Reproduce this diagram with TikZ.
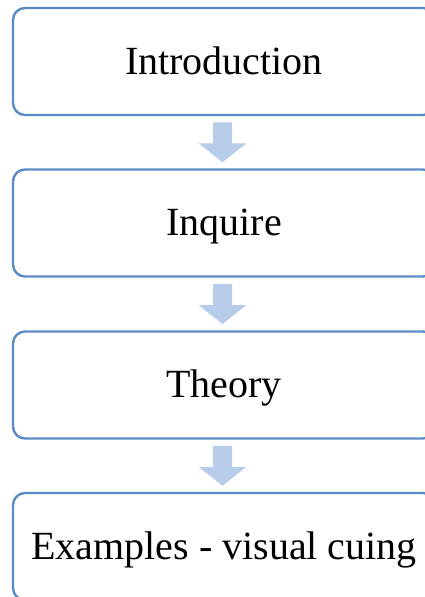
\documentclass[tikz,border=0pt]{standalone}
\usepackage{fontspec}
\setmainfont{Liberation Serif}
\usepackage{xcolor}
\usetikzlibrary{calc}
\definecolor{frame}{HTML}{5A8CC6}
\definecolor{flow}{HTML}{B7CCE8}
\tikzset{
  stage/.style={draw=frame, line width=2.4pt, rounded corners=12pt,
    minimum width=422pt, minimum height=107pt, inner sep=0pt,
    text height=25pt, text depth=0pt, font=\fontsize{40}{48}\selectfont},
  down/.style={fill=flow, draw=none},
}
\begin{document}
\begin{tikzpicture}[x=1pt,y=-1pt]
  \useasboundingbox (0,0) rectangle (425,597);
  \node[stage] (intro) at (224,61.5) {Introduction};
  \node[stage] (inq) at (224,223) {Inquire};
  \node[stage] (theo) at (224,385) {Theory};
  \node[stage] (ex) at (224,546.5) {Examples - visual cuing};
  % block arrows between the stages
  \foreach \a/\b in {intro/inq,inq/theo,theo/ex}{
    \coordinate (m) at ($(\a.south)!0.5!(\b.north)+(-1.5,0)$);
    \fill[down] ($(m)+(-9.5,-20)$) -- ($(m)+(9.5,-20)$) -- ($(m)+(9.5,1)$)
      -- ($(m)+(24,1)$) -- ($(m)+(0,20)$) -- ($(m)+(-24,1)$)
      -- ($(m)+(-9.5,1)$) -- cycle;
  }
\end{tikzpicture}
\end{document}
